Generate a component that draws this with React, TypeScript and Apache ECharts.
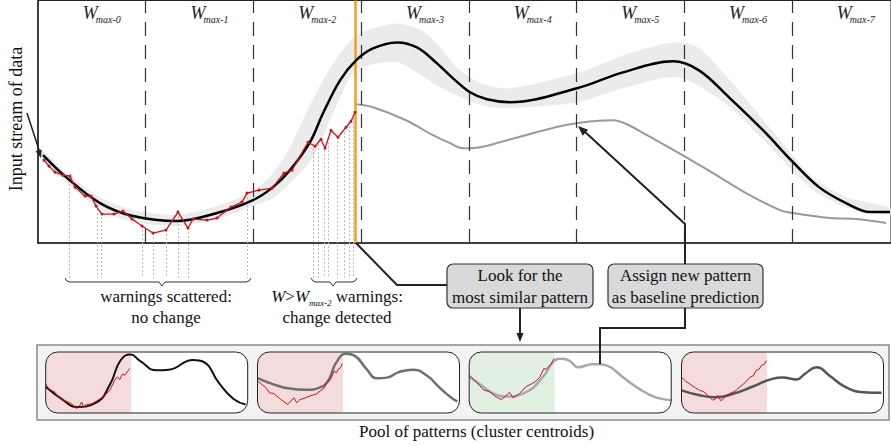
import React, { useEffect, useRef } from 'react';
import * as echarts from 'echarts';

// ---------- data (main panel: t = time step, h = value) ----------
const windowNames = ['max-0', 'max-1', 'max-2', 'max-3', 'max-4', 'max-5', 'max-6', 'max-7'];
const windowBounds = [107.5, 215.5, 323.5, 431, 538.5, 646.5, 754];
const changePoint = 317.5;

const trend = [
  [5, 88], [28, 66], [62, 40], [95, 27], [139, 22], [179, 30], [215, 43], [235, 56], [252, 73],
  [272, 101], [285, 130], [302, 163], [318, 183], [335, 195], [359, 201], [379, 196], [399, 180],
  [415, 165], [432, 151], [449, 144], [472, 141], [539, 155], [585, 171], [635, 182], [661, 173],
  [691, 146], [725, 113], [755, 81], [781, 56], [808, 40], [832, 31], [852, 31],
];
const bandHigh = [
  [5, 92], [28, 71], [62, 46], [95, 33], [139, 28], [179, 37], [215, 52], [235, 70], [252, 96],
  [268, 130], [285, 163], [302, 190], [318, 208], [335, 215], [359, 220], [384, 213], [402, 196],
  [419, 176], [442, 160], [472, 155], [539, 170], [585, 188], [635, 201], [660, 196], [692, 163],
  [742, 103], [775, 66], [808, 46], [852, 35],
];
const bandLow = [
  [5, 84], [28, 61], [62, 34], [95, 21], [139, 17], [179, 24], [215, 37], [235, 45], [252, 60],
  [275, 86], [295, 130], [318, 173], [359, 181], [402, 156], [435, 141], [462, 135], [539, 141],
  [585, 155], [641, 166], [692, 136], [742, 86], [775, 53], [808, 36], [852, 28],
];
const stream = [
  [6, 83], [11, 77], [17, 71], [25, 68], [32, 67], [37, 56], [47, 47], [53, 47], [58, 37], [64, 29],
  [76, 29], [85, 32], [94, 24], [104, 17], [115, 10], [128, 13], [140, 31], [150, 15], [155, 24],
  [169, 23], [179, 25], [193, 36], [204, 41], [209, 50], [221, 53], [234, 55], [246, 70], [254, 73],
  [270, 101], [277, 97], [283, 104], [287, 95], [293, 113], [300, 106], [308, 116], [313, 122], [317, 131],
];
const prediction = [
  [318, 139], [335, 136], [368, 123], [395, 108], [412, 100], [425, 95], [442, 96], [462, 101],
  [502, 112], [522, 117], [539, 120], [555, 122], [575, 123], [589, 119], [609, 108], [641, 90],
  [675, 70], [708, 50], [742, 33], [755, 30], [792, 25], [818, 24], [848, 20],
];
const warnings = [
  [31.5, 67], [59.5, 42], [63.5, 30], [104.5, 17], [115.5, 10], [128.5, 13], [140.5, 31], [150.5, 15],
  [209.5, 50], [275.5, 99], [280.5, 103], [286.5, 97], [290.5, 105], [299.5, 106], [306.5, 115],
  [311.5, 121], [315.5, 129],
];

// ---------- pool of patterns (local 0..100 coordinates per card) ----------
const patternCurves = [
  [[0, 43], [8.7, 21], [15, 10], [25, 17], [32, 48], [37, 86], [42, 96], [46.5, 86], [55, 70], [61, 71],
    [73, 87], [78, 84], [86, 48], [93, 23], [99, 14]],
  [[0, 57], [7.9, 47], [16, 40], [24, 38], [31, 42], [35, 53], [39, 83], [44, 97], [48, 94], [54, 72],
    [59, 57], [64, 58], [70, 67], [77, 71], [84, 61], [90, 42], [96, 25], [99, 19]],
  [[0, 59], [5, 48], [12, 32], [18.5, 27], [28, 34], [36.5, 59], [42, 85], [46, 89], [49.5, 86], [54, 75],
    [61, 80], [64, 80], [68, 78], [76, 59], [84, 40], [92, 26], [100, 21]],
  [[0, 37], [9, 29], [17, 26], [26, 32], [35, 43], [45, 56], [50, 58], [57, 55], [61, 64], [67, 75],
    [73, 62], [81, 43], [90, 34], [99, 33]],
];
const patternStreams = [
  [[0, 48], [1.3, 40], [3, 37], [4.6, 34], [6.3, 26], [7.9, 22], [9.5, 20], [11.2, 18], [12.8, 15],
    [14.5, 10], [15.3, 7], [17, 13], [17.8, 18], [18.6, 10], [20.2, 14], [22.7, 15], [24.3, 18],
    [26.8, 23], [29.3, 29], [31.7, 37], [34.2, 54], [35.4, 59], [36.7, 55], [38, 64], [39.1, 62],
    [40.3, 67], [41.6, 73]],
  [[0, 53], [2, 47], [4, 42], [6, 33], [8, 32], [9.5, 28], [12, 21], [15, 14], [18, 25], [19.4, 17],
    [21, 22], [23, 24], [26, 28], [29, 31], [31, 36], [33, 41], [34, 50], [35.5, 52], [37, 61], [38, 69],
    [39, 66], [40, 72], [41, 74], [42, 81]],
  [[0, 62], [3.6, 51], [7, 38], [10, 35], [13.5, 26], [16, 22], [18, 28], [20, 34], [21.6, 25], [23, 28],
    [25, 32], [28, 43], [31, 48], [33, 52], [35, 59], [37, 73], [38, 71], [39, 75], [40.5, 80], [42, 89]],
  [[0, 59], [2, 52], [4, 48], [7, 41], [9, 37], [11, 35], [13, 29], [15.5, 21], [17, 24], [18, 29],
    [19.5, 20], [20.5, 23], [22, 28], [24, 32], [26.5, 36], [29, 43], [31.5, 50], [34, 59], [35.5, 61],
    [37, 70], [38.5, 72], [39.5, 78], [41, 80], [42, 86]],
];
const patternColors = ['#111111', '#6f6f6f', '#a9a9a9', '#555555'];
const patternShade = ['#f4dcdd', '#f4dcdd', '#e1f0e1', '#f4dcdd'];

const SERIF = 'Liberation Serif';

function txt(x: number, y: number, text: string, size: number, extra: any = {}) {
  return {
    type: 'text', z: 30, x, y,
    style: { text, fontFamily: SERIF, fontSize: size, fill: '#111', align: 'center', verticalAlign: 'middle', ...extra },
  };
}
function arrow(x1: number, y1: number, x2: number, y2: number, size = 9) {
  const a = Math.atan2(y2 - y1, x2 - x1);
  const bx = x2 - size * Math.cos(a);
  const by = y2 - size * Math.sin(a);
  const w = size * 0.4;
  return {
    type: 'polygon', z: 30,
    shape: { points: [[x2, y2], [bx + w * Math.sin(a), by - w * Math.cos(a)], [bx - w * Math.sin(a), by + w * Math.cos(a)]] },
    style: { fill: '#222' },
  };
}
function seg(points: number[][], width = 2) {
  return { type: 'polyline', z: 30, shape: { points }, style: { stroke: '#222', lineWidth: width, fill: 'none' } };
}

export default function App() {
  const ref = useRef<HTMLDivElement>(null);
  useEffect(() => {
    if (!ref.current) return;
    const chart = echarts.init(ref.current, null, { renderer: 'svg' });

    const cardX = [45.7, 257.5, 469.2, 681.5];
    const cardW = 202, cardY = 352, cardH = 61;

    const grids: any[] = [
      { left: 38, right: 0, top: 0.5, bottom: 203, show: true, borderColor: '#222', borderWidth: 1 },
    ];
    const xAxes: any[] = [
      { gridIndex: 0, type: 'value', min: 0, max: 853, axisLine: { show: true, onZero: false, lineStyle: { color: '#222', width: 1.5 } }, axisTick: { show: false }, axisLabel: { show: false }, splitLine: { show: false } },
    ];
    const yAxes: any[] = [
      { gridIndex: 0, type: 'value', min: 0, max: 243, axisLine: { show: true, onZero: false, lineStyle: { color: '#222', width: 1.5 } }, axisTick: { show: false }, axisLabel: { show: false }, splitLine: { show: false } },
    ];
    cardX.forEach((x, i) => {
      grids.push({ left: x, top: cardY, width: cardW, height: cardH });
      xAxes.push({ gridIndex: i + 1, type: 'value', min: 0, max: 100, show: false });
      yAxes.push({ gridIndex: i + 1, type: 'value', min: 0, max: 100, show: false });
    });

    const series: any[] = [
      {
        type: 'custom', name: 'band', data: [0], z: 1, silent: true, clip: false,
        renderItem: (params: any, api: any) => {
          const up = bandHigh.map((p) => api.coord(p));
          const lo = bandLow.map((p) => api.coord(p)).reverse();
          return { type: 'polygon', shape: { points: up.concat(lo), smooth: 0.25 }, style: { fill: '#ebebeb', stroke: 'none' } };
        },
      },
      {
        type: 'line', name: 'windows', data: [], z: 3,
        markLine: {
          silent: true, symbol: ['none', 'none'], label: { show: false },
          lineStyle: { color: '#333', width: 1.2, type: [14, 9] },
          data: windowBounds.map((v) => ({ xAxis: v })),
        },
      },
      {
        type: 'custom', name: 'warnings', data: warnings, clip: false, z: 2,
        renderItem: (params: any, api: any) => {
          const p1 = api.coord([api.value(0), api.value(1)]);
          const p2 = api.coord([api.value(0), -35]);
          return { type: 'line', shape: { x1: p1[0], y1: p1[1], x2: p2[0], y2: p2[1] }, style: { stroke: '#b8b8b8', lineWidth: 1, lineDash: [2, 2] } };
        },
      },
      { type: 'line', name: 'prediction', data: prediction, smooth: 0.35, symbol: 'none', lineStyle: { color: '#9a9a9a', width: 2 }, z: 4 },
      { type: 'line', name: 'trend', data: trend, smooth: 0.35, symbol: 'none', lineStyle: { color: '#000', width: 2.5 }, z: 5 },
      {
        type: 'line', name: 'stream', data: stream, symbol: 'circle', symbolSize: 3,
        itemStyle: { color: '#c4161c' }, lineStyle: { color: '#c4161c', width: 1.3 }, z: 6,
      },
      {
        type: 'line', name: 'change', data: [], z: 7,
        markLine: {
          silent: true, symbol: ['none', 'none'], label: { show: false },
          lineStyle: { color: '#f0a01e', width: 2.5, type: 'solid' },
          data: [{ xAxis: changePoint }],
        },
      },
    ];
    patternCurves.forEach((c, i) => {
      series.push({
        type: 'line', xAxisIndex: i + 1, yAxisIndex: i + 1, data: c, smooth: 0.5, symbol: 'none',
        lineStyle: { color: patternColors[i], width: i === 0 ? 2 : 2.5 }, z: 5,
      });
      series.push({
        type: 'line', xAxisIndex: i + 1, yAxisIndex: i + 1, data: patternStreams[i], symbol: 'none',
        lineStyle: { color: '#cc1520', width: 1 }, z: 6,
      });
    });

    const graphics: any[] = [];
    windowNames.forEach((n, i) => {
      const cx = 38.5 + 107.7 * (i + 0.5) - 9.5;
      graphics.push(txt(cx, 4, 'W', 18, { fontStyle: 'italic', align: 'left', verticalAlign: 'top', fill: '#222' }));
      graphics.push(txt(cx + 13, 14, n, 10, { fontStyle: 'italic', align: 'left', verticalAlign: 'top', fill: '#222' }));
    });
    graphics.push({ ...txt(16, 119, 'Input stream of data', 18), rotation: Math.PI / 2 });
    graphics.push(seg([[27, 113], [40, 153]], 1.5));
    graphics.push(arrow(27, 113, 41, 158, 8));
    graphics.push({ type: 'polyline', z: 30, shape: { points: [[65, 278], [67, 281], [70, 282], [159, 282], [162, 286], [165, 282], [246, 282], [249, 281], [251, 278]] }, style: { stroke: '#333', lineWidth: 1, fill: 'none' } });
    graphics.push({ type: 'polyline', z: 30, shape: { points: [[311, 278], [313, 281], [316, 282], [330, 282], [333, 286], [336, 282], [352, 282], [355, 281], [357, 278]] }, style: { stroke: '#333', lineWidth: 1, fill: 'none' } });
    graphics.push(txt(166, 307, 'warnings scattered:\nno change', 17, { lineHeight: 21 }));
    graphics.push(txt(337, 307, '{i|W}{n|>}{i|W}{s|max-2}{n| warnings:}\n{n|change detected}', 17, {
      rich: {
        i: { fontFamily: SERIF, fontSize: 17, fontStyle: 'italic', lineHeight: 21, fill: '#111' },
        n: { fontFamily: SERIF, fontSize: 17, lineHeight: 21, fill: '#111' },
        s: { fontFamily: SERIF, fontSize: 9, fontStyle: 'italic', lineHeight: 13, fill: '#111', verticalAlign: 'bottom' },
      },
    }));
    graphics.push({ type: 'rect', z: 28, shape: { x: 447, y: 264, width: 146, height: 44, r: 6 }, style: { fill: '#d9d9d9', stroke: '#333', lineWidth: 1.2 } });
    graphics.push(txt(520, 286, 'Look for the\nmost similar pattern', 17, { lineHeight: 22 }));
    graphics.push({ type: 'rect', z: 28, shape: { x: 608, y: 264, width: 155, height: 44, r: 6 }, style: { fill: '#d9d9d9', stroke: '#333', lineWidth: 1.2 } });
    graphics.push(txt(685.5, 286, 'Assign new pattern\nas baseline prediction', 17, { lineHeight: 22 }));
    graphics.push(seg([[356, 243], [397, 285], [447, 285]]));
    graphics.push(seg([[520, 308], [520, 334]]));
    graphics.push(arrow(520, 320, 520, 342, 9));
    graphics.push(seg([[685, 264], [685, 224], [584, 131]]));
    graphics.push(arrow(685, 224, 578, 126, 10));
    graphics.push(seg([[685, 308], [685, 328], [600, 328], [600, 364]]));
    graphics.push({ type: 'rect', z: 0, shape: { x: 37, y: 345, width: 852, height: 75 }, style: { fill: '#f3f3f3', stroke: '#8a8a8a', lineWidth: 1.5 } });
    cardX.forEach((x, i) => {
      graphics.push({ type: 'rect', z: 1, shape: { x, y: cardY, width: cardW, height: cardH, r: 12 }, style: { fill: '#fff', stroke: 'none' } });
      graphics.push({ type: 'rect', z: 1, shape: { x, y: cardY, width: 85.5, height: cardH, r: [12, 0, 0, 12] }, style: { fill: patternShade[i], stroke: 'none' } });
      graphics.push({ type: 'rect', z: 12, shape: { x, y: cardY, width: cardW, height: cardH, r: 12 }, style: { fill: 'none', stroke: '#222', lineWidth: 1 } });
    });
    graphics.push(txt(476.5, 431, 'Pool of patterns (cluster centroids)', 17));

    chart.setOption({
      animation: false,
      backgroundColor: '#fff',
      grid: grids,
      xAxis: xAxes,
      yAxis: yAxes,
      series,
      graphic: { elements: graphics },
    });
    return () => chart.dispose();
  }, []);
  return <div ref={ref} style={{ position: 'fixed', left: 0, top: 0, width: 891, height: 446 }} />;
}
